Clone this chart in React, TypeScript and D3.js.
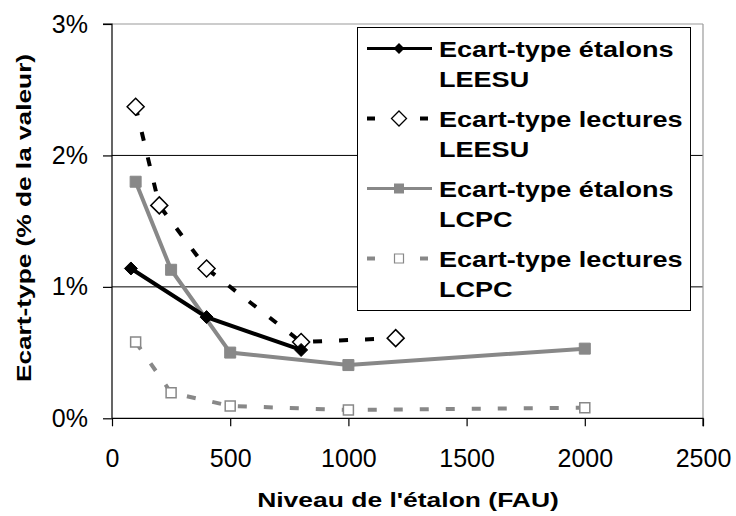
import React, { useEffect, useRef } from 'react';
import * as d3 from 'd3';

const xEtalonsLEESU = [80, 400, 800];
const etalonsLEESU = [1.14, 0.77, 0.52];
const xLecturesLEESU = [100, 200, 400, 800, 1200];
const lecturesLEESU = [2.37, 1.62, 1.14, 0.58, 0.61];
const xLCPC = [100, 250, 500, 1000, 2000];
const etalonsLCPC = [1.8, 1.13, 0.5, 0.405, 0.53];
const lecturesLCPC = [0.58, 0.195, 0.094, 0.063, 0.08];
const xTicks = [0, 500, 1000, 1500, 2000, 2500];
const yTicks = [0, 1, 2, 3];
const legendLabels = [
  ['Ecart-type étalons', 'LEESU'],
  ['Ecart-type lectures', 'LEESU'],
  ['Ecart-type étalons', 'LCPC'],
  ['Ecart-type lectures', 'LCPC'],
];

const FONT = 'Liberation Sans, Arial, sans-serif';

export default function App() {
  const ref = useRef<SVGSVGElement>(null);
  useEffect(() => {
    const svg = d3.select(ref.current);
    svg.selectAll('*').remove();
    const x = d3.scaleLinear().domain([0, 2500]).range([112, 703]);
    const y = d3.scaleLinear().domain([0, 3]).range([418.3, 24]);
    const g = svg.append('g');

    // grid lines
    g.selectAll('line.grid').data([1, 2]).enter().append('line')
      .attr('x1', x(0)).attr('x2', x(2500)).attr('y1', d => y(d)).attr('y2', d => y(d))
      .attr('stroke', '#000').attr('stroke-width', 1);
    // top and right border (gray)
    g.append('line').attr('x1', x(0)).attr('x2', x(2500)).attr('y1', y(3)).attr('y2', y(3))
      .attr('stroke', '#9a9a9a').attr('stroke-width', 1.2);
    g.append('line').attr('x1', x(2500)).attr('x2', x(2500)).attr('y1', y(3)).attr('y2', y(0))
      .attr('stroke', '#9a9a9a').attr('stroke-width', 1.2);

    // axes
    const yAxis = d3.axisLeft(y).tickValues(yTicks).tickSize(9).tickPadding(15)
      .tickFormat(d => `${d}%`);
    const ya = g.append('g').attr('transform', `translate(${x(0)},0)`).call(yAxis);
    const xAxis = d3.axisBottom(x).tickValues(xTicks).tickSize(8).tickPadding(23)
      .tickFormat(d => `${d}`);
    const xa = g.append('g').attr('transform', `translate(0,${y(0)})`).call(xAxis);
    [ya, xa].forEach(a => {
      a.select('.domain').attr('stroke', '#000').attr('stroke-width', 1.2);
      a.selectAll('.tick line').attr('stroke', '#000').attr('stroke-width', 1.2);
      a.selectAll('.tick text').attr('fill', '#000').attr('font-size', 25).attr('font-family', FONT);
    });
    ya.select('.domain').attr('d', `M-9,${y(3)}H0V${y(0)}`);
    xa.select('.domain').attr('d', `M${x(0)},0H${x(2500)}V8`);

    const line = d3.line<[number, number]>().x(d => x(d[0])).y(d => y(d[1]));
    const pts = (xs: number[], ys: number[]) => xs.map((v, i) => [v, ys[i]] as [number, number]);

    const s1 = pts(xEtalonsLEESU, etalonsLEESU);
    const s2 = pts(xLecturesLEESU, lecturesLEESU);
    const s3 = pts(xLCPC, etalonsLCPC);
    const s4 = pts(xLCPC, lecturesLCPC);

    const gray = '#888888';
    g.append('path').attr('d', line(s4)).attr('fill', 'none').attr('stroke', gray)
      .attr('stroke-width', 4).attr('stroke-dasharray', '9,17');
    g.append('path').attr('d', line(s3)).attr('fill', 'none').attr('stroke', gray)
      .attr('stroke-width', 4);
    g.append('path').attr('d', line(s2)).attr('fill', 'none').attr('stroke', '#000')
      .attr('stroke-width', 4).attr('stroke-dasharray', '9,17');
    g.append('path').attr('d', line(s1)).attr('fill', 'none').attr('stroke', '#000')
      .attr('stroke-width', 4);

    const diamond = (cx: number, cy: number, r: number) =>
      `M${cx},${cy - r}L${cx + r},${cy}L${cx},${cy + r}L${cx - r},${cy}Z`;
    const square = (cx: number, cy: number, r: number) =>
      `M${cx - r},${cy - r}h${2 * r}v${2 * r}h${-2 * r}Z`;

    // markers
    s4.forEach(d => g.append('path').attr('d', square(x(d[0]), y(d[1]), 5))
      .attr('fill', '#fff').attr('stroke', gray).attr('stroke-width', 1.5));
    s3.forEach(d => g.append('path').attr('d', square(x(d[0]), y(d[1]), 5.5))
      .attr('fill', gray).attr('stroke', gray).attr('stroke-width', 1));
    s2.forEach(d => g.append('path').attr('d', diamond(x(d[0]), y(d[1]), 8.5))
      .attr('fill', '#fff').attr('stroke', '#000').attr('stroke-width', 1.5));
    s1.forEach(d => g.append('path').attr('d', diamond(x(d[0]), y(d[1]), 6.5))
      .attr('fill', '#000').attr('stroke', '#000').attr('stroke-width', 1));

    // legend
    const lg = g.append('g');
    lg.append('rect').attr('x', 357.5).attr('y', 27.5).attr('width', 333).attr('height', 283)
      .attr('fill', '#fff').attr('stroke', '#000').attr('stroke-width', 1);
    const styles = [
      { color: '#000', dash: null, marker: 'fd' },
      { color: '#000', dash: '8,15', marker: 'od' },
      { color: gray, dash: null, marker: 'fs' },
      { color: gray, dash: '8,15', marker: 'os' },
    ];
    legendLabels.forEach((lab, i) => {
      const cy = 48.5 + i * 70;
      const st = styles[i];
      if (st.dash) {
        lg.append('line').attr('x1', 367).attr('x2', 375).attr('y1', cy).attr('y2', cy)
          .attr('stroke', st.color).attr('stroke-width', 4);
        lg.append('line').attr('x1', 420).attr('x2', 428).attr('y1', cy).attr('y2', cy)
          .attr('stroke', st.color).attr('stroke-width', 4);
      } else {
        lg.append('line').attr('x1', 367).attr('x2', 432).attr('y1', cy).attr('y2', cy)
          .attr('stroke', st.color).attr('stroke-width', 3);
      }
      const mx = 399;
      if (st.marker === 'fd') lg.append('path').attr('d', diamond(mx, cy, 5.5)).attr('fill', '#000');
      if (st.marker === 'od') lg.append('path').attr('d', diamond(mx, cy, 7.5)).attr('fill', '#fff')
        .attr('stroke', '#000').attr('stroke-width', 1.3);
      if (st.marker === 'fs') lg.append('path').attr('d', square(mx, cy, 5)).attr('fill', gray);
      if (st.marker === 'os') lg.append('path').attr('d', square(mx, cy, 4.5)).attr('fill', '#fff')
        .attr('stroke', gray).attr('stroke-width', 1.2);
      lab.forEach((t, j) => {
        lg.append('text')
          .attr('transform', `translate(439,${cy + 8.5 + j * 30}) scale(1.23,1)`)
          .text(t)
          .attr('font-family', FONT).attr('font-weight', 'bold').attr('font-size', 22)
          .attr('fill', '#000');
      });
    });

    // axis titles
    g.append('text').attr('transform', 'translate(408,507) scale(1.26,1)').attr('text-anchor', 'middle')
      .attr('font-family', FONT).attr('font-weight', 'bold').attr('font-size', 21)
      .text("Niveau de l'étalon (FAU)");
    g.append('text').attr('transform', 'translate(31,218) rotate(-90) scale(1.25,1)').attr('text-anchor', 'middle')
      .attr('font-family', FONT).attr('font-weight', 'bold').attr('font-size', 21)
      .text('Ecart-type (% de la valeur)');
  }, []);
  return (
    <svg ref={ref} width={736} height={516}
      style={{ position: 'absolute', left: 0, top: 0, background: '#fff' }} />
  );
}
